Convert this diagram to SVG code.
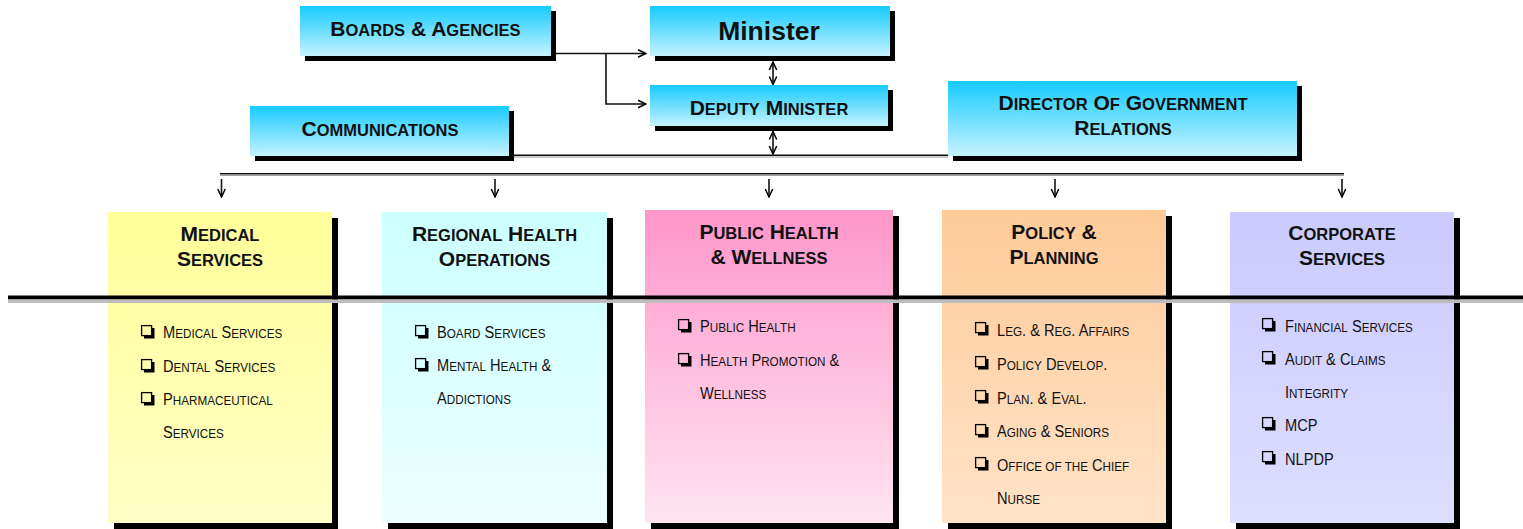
<svg xmlns="http://www.w3.org/2000/svg" width="1523" height="529" viewBox="0 0 1523 529">
<defs>
<style>
text{font-family:"Liberation Sans",Arial,sans-serif;fill:#111}
.h{font-weight:bold;font-size:21px;text-anchor:middle}
.h tspan.s{font-size:16.5px}
.m{font-weight:bold;font-size:26.5px;text-anchor:middle}
.it{font-size:17px}
.it tspan.s{font-size:13.6px}
.sh{fill:#000}
.ln{stroke:#111;stroke-width:1.6;fill:none}
.lg{stroke:#9a9a9a;stroke-width:1;fill:none}
.ar{marker-end:url(#arr)}
.da{marker-start:url(#arr);marker-end:url(#arr)}
</style>
<linearGradient id="gTop" x1="0" y1="0" x2="0" y2="1"><stop offset="0" stop-color="#16CBFF"/><stop offset="1" stop-color="#C6F3FF"/></linearGradient>
<linearGradient id="gMed" x1="0" y1="0" x2="0" y2="1"><stop offset="0" stop-color="#FFFF99"/><stop offset="1" stop-color="#FFFFC6"/></linearGradient>
<linearGradient id="gReg" x1="0" y1="0" x2="0" y2="1"><stop offset="0" stop-color="#CCFFFF"/><stop offset="1" stop-color="#ECFFFF"/></linearGradient>
<linearGradient id="gPub" x1="0" y1="0" x2="0" y2="1"><stop offset="0" stop-color="#FF96CA"/><stop offset="1" stop-color="#FFE4F1"/></linearGradient>
<linearGradient id="gPol" x1="0" y1="0" x2="0" y2="1"><stop offset="0" stop-color="#FFCA98"/><stop offset="1" stop-color="#FFE3C8"/></linearGradient>
<linearGradient id="gCor" x1="0" y1="0" x2="0" y2="1"><stop offset="0" stop-color="#CACAFF"/><stop offset="1" stop-color="#DEDEFF"/></linearGradient>
<marker id="arr" markerUnits="userSpaceOnUse" markerWidth="10" markerHeight="10" viewBox="0 0 10 10" refX="9" refY="5" orient="auto-start-reverse">
<path d="M1,1.3 L9,5 L1,8.7" fill="none" stroke="#000" stroke-width="1.5"/>
</marker>
<g id="cb">
<rect x="0.6" y="0.6" width="10" height="10" fill="none" stroke="#000" stroke-width="1.3"/>
<polygon points="11,3 13.5,3 13.5,13.5 3,13.5 3,11 11,11" fill="#000"/>
</g>
</defs>

<rect width="1523" height="529" fill="#fff"/>

<g id="connectors">
<path class="ln ar" d="M556,53.5 H646"/>
<path class="ln ar" d="M606,53.5 V104 H646"/>
<path class="ln da" d="M773,62 V84.5"/>
<path class="ln da" d="M773,131.5 V154"/>
<path class="ln" d="M509,155.3 H948"/>
<path class="lg" d="M509,157 H948"/>
<path class="ln" d="M220,173.8 H1344"/>
<path class="lg" d="M220,175.4 H1344"/>
<path class="ln ar" d="M221.5,179 V197"/>
<path class="ln ar" d="M495,179 V197"/>
<path class="ln ar" d="M769,179 V197"/>
<path class="ln ar" d="M1055,179 V197"/>
<path class="ln ar" d="M1342,179 V197"/>
</g>

<g id="boards">
<rect class="sh" x="305" y="11" width="251" height="50"/>
<rect x="300" y="6" width="251" height="50" fill="url(#gTop)"/>
<text class="h" x="425.5" y="36">B<tspan class="s">OARDS</tspan> &amp; A<tspan class="s">GENCIES</tspan></text>
</g>
<g id="minister">
<rect class="sh" x="655" y="11" width="240" height="50"/>
<rect x="650" y="6" width="240" height="50" fill="url(#gTop)"/>
<text class="m" x="769" y="40">Minister</text>
</g>
<g id="deputy">
<rect class="sh" x="655" y="90" width="238" height="41"/>
<rect x="650" y="85" width="238" height="41" fill="url(#gTop)"/>
<text class="h" x="769" y="114.5">D<tspan class="s">EPUTY</tspan> M<tspan class="s">INISTER</tspan></text>
</g>
<g id="communications">
<rect class="sh" x="255" y="111" width="259" height="50"/>
<rect x="250" y="106" width="259" height="50" fill="url(#gTop)"/>
<text class="h" x="380" y="136">C<tspan class="s">OMMUNICATIONS</tspan></text>
</g>
<g id="director">
<rect class="sh" x="953" y="86" width="349" height="75"/>
<rect x="948" y="81" width="349" height="75" fill="url(#gTop)"/>
<text class="h" x="1123" y="110">D<tspan class="s">IRECTOR</tspan> O<tspan class="s">F</tspan> G<tspan class="s">OVERNMENT</tspan></text>
<text class="h" x="1123" y="135">R<tspan class="s">ELATIONS</tspan></text>
</g>

<g id="medical">
<rect class="sh" x="114" y="218" width="224" height="311"/>
<rect x="108" y="212" width="224" height="311" fill="url(#gMed)"/>
<text class="h" x="220" y="240.5">M<tspan class="s">EDICAL</tspan></text>
<text class="h" x="220" y="265.5">S<tspan class="s">ERVICES</tspan></text>
<use href="#cb" x="141" y="325"/>
<use href="#cb" x="141" y="359"/>
<use href="#cb" x="141" y="392"/>
<g transform="translate(163,0) scale(0.86,1)">
<text class="it" x="0" y="338.5">M<tspan class="s">EDICAL</tspan> S<tspan class="s">ERVICES</tspan></text>
<text class="it" x="0" y="372.5">D<tspan class="s">ENTAL</tspan> S<tspan class="s">ERVICES</tspan></text>
<text class="it" x="0" y="405.5">P<tspan class="s">HARMACEUTICAL</tspan></text>
<text class="it" x="0" y="438.5">S<tspan class="s">ERVICES</tspan></text>
</g>
</g>

<g id="regional">
<rect class="sh" x="388" y="218" width="225" height="311"/>
<rect x="382" y="212" width="225" height="311" fill="url(#gReg)"/>
<text class="h" x="494.5" y="240.5">R<tspan class="s">EGIONAL</tspan> H<tspan class="s">EALTH</tspan></text>
<text class="h" x="494.5" y="265.5">O<tspan class="s">PERATIONS</tspan></text>
<use href="#cb" x="415" y="325"/>
<use href="#cb" x="415" y="358"/>
<g transform="translate(437,0) scale(0.86,1)">
<text class="it" x="0" y="338.5">B<tspan class="s">OARD</tspan> S<tspan class="s">ERVICES</tspan></text>
<text class="it" x="0" y="371.5">M<tspan class="s">ENTAL</tspan> H<tspan class="s">EALTH</tspan> &amp;</text>
<text class="it" x="0" y="404.5">A<tspan class="s">DDICTIONS</tspan></text>
</g>
</g>

<g id="public">
<rect class="sh" x="651" y="216" width="248" height="313"/>
<rect x="645" y="210" width="248" height="313" fill="url(#gPub)"/>
<text class="h" x="769" y="238.5">P<tspan class="s">UBLIC</tspan> H<tspan class="s">EALTH</tspan></text>
<text class="h" x="769" y="263.5">&amp; W<tspan class="s">ELLNESS</tspan></text>
<use href="#cb" x="678" y="319"/>
<use href="#cb" x="678" y="353"/>
<g transform="translate(700,0) scale(0.86,1)">
<text class="it" x="0" y="332.5">P<tspan class="s">UBLIC</tspan> H<tspan class="s">EALTH</tspan></text>
<text class="it" x="0" y="366.5">H<tspan class="s">EALTH</tspan> P<tspan class="s">ROMOTION</tspan> &amp;</text>
<text class="it" x="0" y="399">W<tspan class="s">ELLNESS</tspan></text>
</g>
</g>

<g id="policy">
<rect class="sh" x="948" y="216" width="224" height="313"/>
<rect x="942" y="210" width="224" height="313" fill="url(#gPol)"/>
<text class="h" x="1054" y="238.5">P<tspan class="s">OLICY</tspan> &amp;</text>
<text class="h" x="1054" y="263.5">P<tspan class="s">LANNING</tspan></text>
<use href="#cb" x="975" y="322"/>
<use href="#cb" x="975" y="356"/>
<use href="#cb" x="975" y="390"/>
<use href="#cb" x="975" y="424"/>
<use href="#cb" x="975" y="457"/>
<g transform="translate(997,0) scale(0.86,1)">
<text class="it" x="0" y="336">L<tspan class="s">EG</tspan>. &amp; R<tspan class="s">EG</tspan>. A<tspan class="s">FFAIRS</tspan></text>
<text class="it" x="0" y="370">P<tspan class="s">OLICY</tspan> D<tspan class="s">EVELOP</tspan>.</text>
<text class="it" x="0" y="404">P<tspan class="s">LAN</tspan>. &amp; E<tspan class="s">VAL</tspan>.</text>
<text class="it" x="0" y="437.5">A<tspan class="s">GING</tspan> &amp; S<tspan class="s">ENIORS</tspan></text>
<text class="it" x="0" y="471">O<tspan class="s">FFICE OF THE</tspan> C<tspan class="s">HIEF</tspan></text>
<text class="it" x="0" y="504.5">N<tspan class="s">URSE</tspan></text>
</g>
</g>

<g id="corporate">
<rect class="sh" x="1236" y="218" width="224" height="311"/>
<rect x="1230" y="212" width="224" height="311" fill="url(#gCor)"/>
<text class="h" x="1342" y="240">C<tspan class="s">ORPORATE</tspan></text>
<text class="h" x="1342" y="265">S<tspan class="s">ERVICES</tspan></text>
<use href="#cb" x="1262" y="318"/>
<use href="#cb" x="1262" y="351"/>
<use href="#cb" x="1262" y="417"/>
<use href="#cb" x="1262" y="451"/>
<g transform="translate(1285,0) scale(0.86,1)">
<text class="it" x="0" y="332">F<tspan class="s">INANCIAL</tspan> S<tspan class="s">ERVICES</tspan></text>
<text class="it" x="0" y="365">A<tspan class="s">UDIT</tspan> &amp; C<tspan class="s">LAIMS</tspan></text>
<text class="it" x="0" y="398">I<tspan class="s">NTEGRITY</tspan></text>
<text class="it" x="0" y="431">MCP</text>
<text class="it" x="0" y="465">NLPDP</text>
</g>
</g>

<g id="divider">
<rect x="8" y="295.5" width="1515" height="4" fill="#000"/>
<rect x="8" y="299.5" width="1515" height="3.5" fill="#bdbdbd"/>
</g>
</svg>
